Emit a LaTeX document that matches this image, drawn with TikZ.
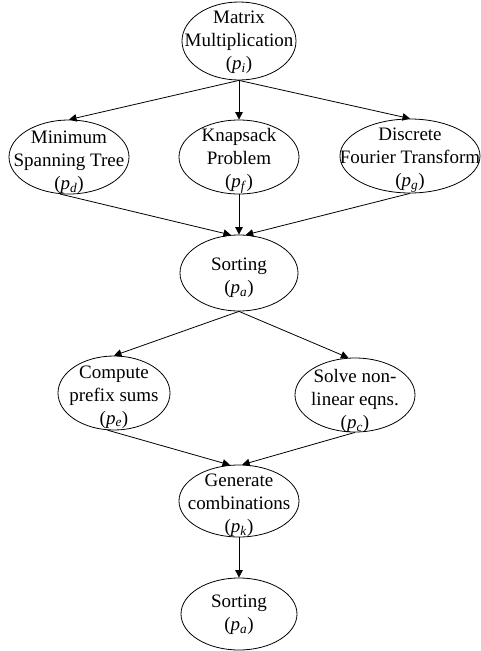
\documentclass[tikz,border=0pt]{standalone}
\usepackage{fontspec}
\setmainfont{Liberation Serif}
\usetikzlibrary{shapes.geometric,arrows.meta}
\newcommand{\pj}[1]{(\textit{p}\textsubscript{\textit{#1}})}
\begin{document}
\begin{tikzpicture}[x=1pt,y=-1pt,
    task/.style={draw,ellipse,inner sep=0pt,line width=0.8pt},
    lbl/.style={align=center,inner sep=0pt,font=\fontsize{19}{23}\selectfont},
    edge/.style={-{Triangle[length=7.5pt,width=7.5pt]},line width=0.8pt}]
    \useasboundingbox (0,0) rectangle (480,651);
    % the tasks
    \node[task,minimum width=114,minimum height=78] (mm) at (239,41) {};
    \node[lbl] (mm-t) at (239,42) {Matrix\\Multiplication\\\pj{i}};
    \node[task,minimum width=120,minimum height=74] (mst) at (69,157) {};
    \node[lbl] (mst-t) at (69,162) {Minimum\\Spanning Tree\\\pj{d}};
    \node[task,minimum width=120,minimum height=74] (ks) at (239,157) {};
    \node[lbl] (ks-t) at (239,161) {Knapsack\\Problem\\\pj{f}};
    \node[task,minimum width=140,minimum height=74] (dft) at (410,156) {};
    \node[lbl] (dft-t) at (410,160) {Discrete\\Fourier Transform\\\pj{g}};
    \node[task,minimum width=118,minimum height=76] (sort) at (239,273) {};
    \node[lbl] (sort-t) at (239,278) {Sorting\\\pj{a}};
    \node[task,minimum width=112,minimum height=74] (comp) at (114,393) {};
    \node[lbl] (comp-t) at (114,397) {Compute\\prefix sums\\\pj{e}};
    \node[task,minimum width=120,minimum height=74] (solve) at (355,395) {};
    \node[lbl] (solve-t) at (355,401) {Solve non-\\linear eqns.\\\pj{c}};
    \node[task,minimum width=120,minimum height=72] (gen) at (239,501) {};
    \node[lbl] (gen-t) at (239,505) {Generate\\combinations\\\pj{k}};
    \node[task,minimum width=116,minimum height=72] (sort2) at (239,614) {};
    \node[lbl] (sort2-t) at (239,615) {Sorting\\\pj{a}};
    % the edges
    \draw[edge] (mm.south) -- (mst.north);
    \draw[edge] (mm.south) -- (ks.north);
    \draw[edge] (mm.south) -- (dft.north);
    \draw[edge] (mst.256) -- (sort.102);
    \draw[edge] (ks.south) -- (sort.north);
    \draw[edge] (dft.south) -- (sort.80);
    \draw[edge] (sort.south) -- (comp.north);
    \draw[edge] (sort.south) -- (solve.100);
    \draw[edge] (comp.260) -- (gen.104);
    \draw[edge] (solve.south) -- (gen.85);
    \draw[edge] (gen.south) -- (sort2.north);
\end{tikzpicture}
\end{document}
